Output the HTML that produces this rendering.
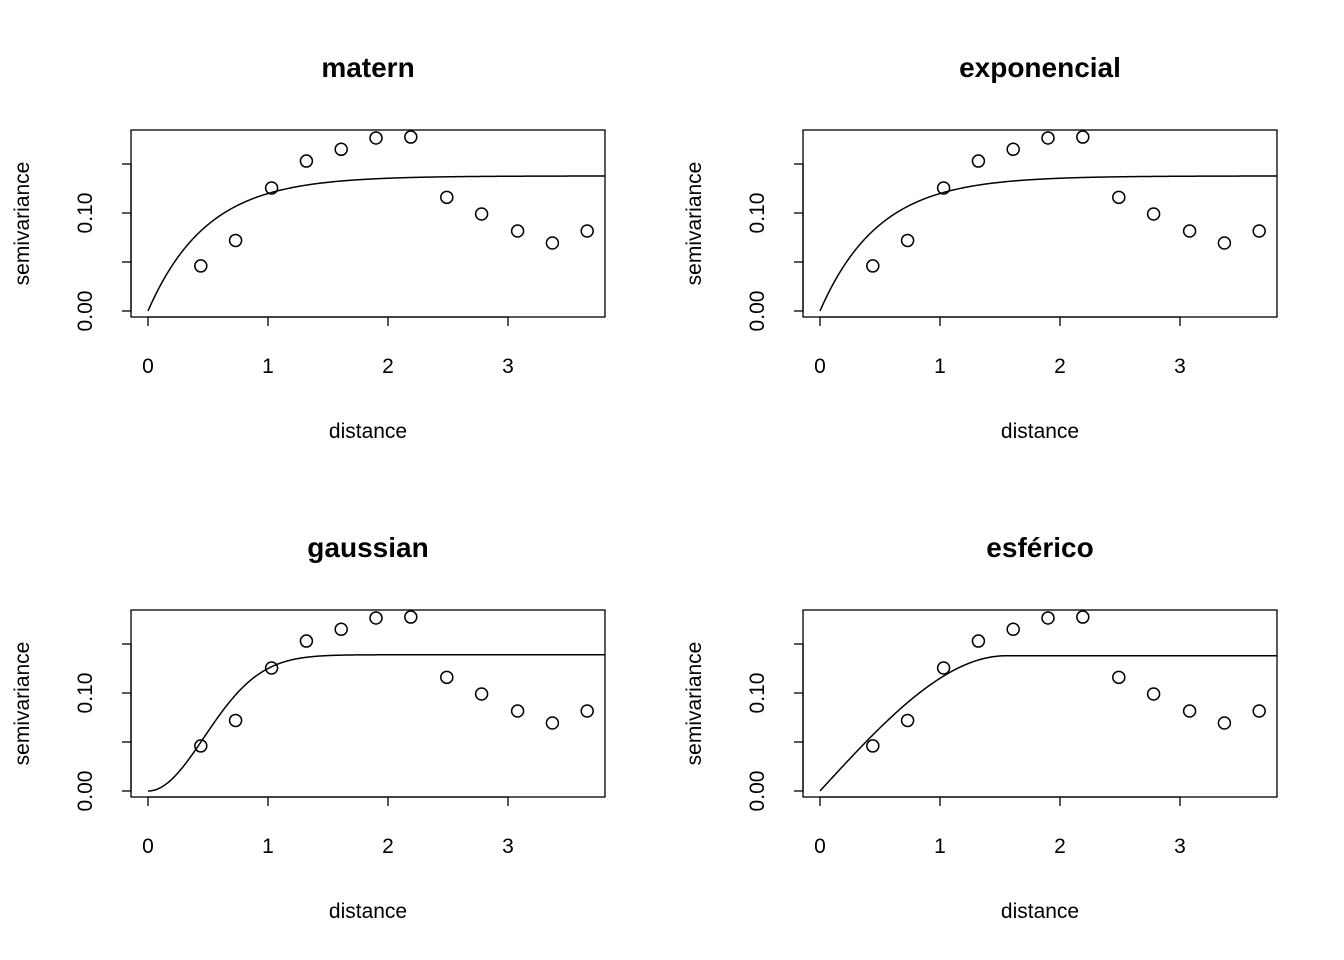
<!DOCTYPE html>
<html><head><meta charset="utf-8"><style>
html,body{margin:0;padding:0;background:#fff}
svg{display:block;font-family:"Liberation Sans",Arial,sans-serif}
</style></head><body>
<svg id="c" width="1344" height="960" viewBox="0 0 1344 960"></svg>
<script>
const distances = [0.44,0.73,1.03,1.32,1.61,1.90,2.19,2.49,2.78,3.08,3.37,3.66];
const semivariances = [0.046,0.072,0.1255,0.153,0.165,0.1765,0.1775,0.116,0.099,0.0816,0.0694,0.0816];
const panelTitles = ["matern","exponencial","gaussian","esférico"];
const modelTypes = ["exp","exp","gau","sph"];
const modelSills = [0.1378,0.1378,0.139,0.138];
const modelRanges = [0.49,0.49,0.66,1.55];
const xTicks = [0,1,2,3];
const yTicks = [0,0.05,0.10,0.15];
const yTickLabels = ["0.00","","0.10",""];

const NS="http://www.w3.org/2000/svg";
const svg=document.getElementById('c');
function mk(t,a,p){const e=document.createElementNS(NS,t);for(const k in a)e.setAttribute(k,a[k]);(p||svg).appendChild(e);return e;}
function model(type,s,a,h){
  if(type==="exp")return s*(1-Math.exp(-h/a));
  if(type==="gau")return s*(1-Math.exp(-(h/a)*(h/a)));
  if(h>=a)return s; const r=h/a; return s*(1.5*r-0.5*r*r*r);
}
const offs=[[0,0],[672,0],[0,480],[672,480]];
panelTitles.forEach((title,i)=>{
  const [ox,oy]=offs[i];
  const g=mk('g',{});
  
  
  const L=131+ox,R=605+ox,T=130+oy,B=317+oy;
  const X=v=>148+ox+v*120;
  const Y=v=>311+oy-v*980;
  const t=mk('text',{x:(L+R)/2,y:77+oy,'text-anchor':'middle','font-size':'28','font-weight':'bold'},g);
  t.textContent=title;
  const box=mk('rect',{x:L,y:T,width:R-L,height:B-T,fill:'none',stroke:'#000','stroke-width':1.3},g);
  
  // x axis
  mk('line',{x1:X(0),x2:X(3),y1:B,y2:B,stroke:'#000','stroke-width':1.3},g);
  xTicks.forEach(v=>{
    mk('line',{x1:X(v),x2:X(v),y1:B,y2:B+9,stroke:'#000','stroke-width':1.3},g);
    const l=mk('text',{x:X(v),y:B+56,'text-anchor':'middle','font-size':'21'},g);
    l.textContent=v;
  });
  yTicks.forEach((v,j)=>{
    mk('line',{x1:L,x2:L-9,y1:Y(v),y2:Y(v),stroke:'#000','stroke-width':1.3},g);
    if(yTickLabels[j]){
      const l=mk('text',{x:92+ox,y:Y(v),'text-anchor':'middle','font-size':'21',transform:`rotate(-90 ${92+ox} ${Y(v)})`},g);
      l.textContent=yTickLabels[j];
    }
  });
  mk('line',{x1:L,x2:L,y1:Y(0),y2:Y(0.15),stroke:'#000','stroke-width':1.3},g);
  const xl=mk('text',{x:(L+R)/2,y:438+oy,'text-anchor':'middle','font-size':'21'},g);
  xl.textContent='distance';
  const yx=29+ox,yy=(T+B)/2;
  const yl=mk('text',{x:yx,y:yy,'text-anchor':'middle','font-size':'21',transform:`rotate(-90 ${yx} ${yy})`},g);
  yl.textContent='semivariance';
  // curve
  let d='';
  for(let k=0;k<=400;k++){const h=k/400*3.81;d+=(k?'L':'M')+X(h).toFixed(2)+','+Y(model(modelTypes[i],modelSills[i],modelRanges[i],h)).toFixed(2);}
  const p=mk('path',{d:d,fill:'none',stroke:'#000','stroke-width':1.5},g);
  
  distances.forEach((h,k)=>{
    const c=mk('circle',{cx:X(h),cy:Y(semivariances[k]),r:6,fill:'none',stroke:'#000','stroke-width':1.5},g);
    
  });
});
</script>
</body></html>
